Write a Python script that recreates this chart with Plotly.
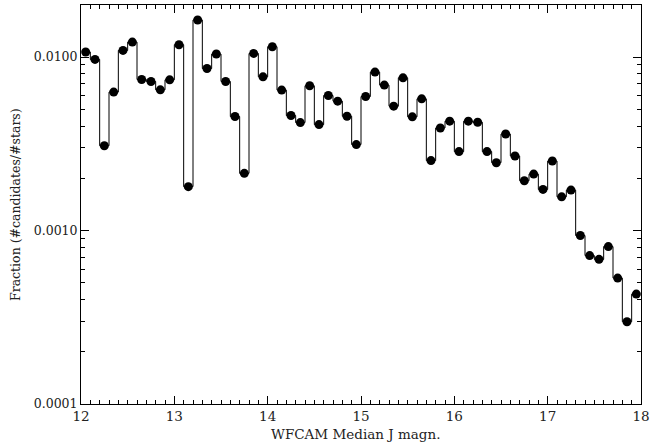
import plotly.graph_objects as go

mag = [round(12.05 + 0.1 * i, 2) for i in range(60)]
fraction = [
    0.01069, 0.00969, 0.00308, 0.00628, 0.01092, 0.0122, 0.00742, 0.00723, 0.00647, 0.00739,
    0.01178, 0.00179, 0.01636, 0.00859, 0.01041, 0.00723, 0.00454, 0.002136, 0.01049, 0.00769,
    0.01147, 0.00645, 0.0046, 0.00419, 0.00683, 0.00408, 0.0060, 0.00557, 0.00456, 0.00313,
    0.00592, 0.00819, 0.00689, 0.00521, 0.00759, 0.00452, 0.00574, 0.00253, 0.0039, 0.00427,
    0.00285, 0.00427, 0.00421, 0.00285, 0.00246, 0.0036, 0.00269, 0.001935, 0.002115, 0.001726,
    0.002516, 0.001564, 0.00171, 0.000936, 0.000717, 0.000682, 0.000808, 0.000532, 0.000298, 0.00043,
]
x_ticks = [12, 13, 14, 15, 16, 17, 18]
y_ticks = [0.0001, 0.001, 0.01]
y_ticktext = ["0.0001", "0.0010", "0.0100"]

font = "DejaVu Serif"
L, R, T, B = 81, 9, 5, 39
W, H = 650, 443
pw, ph = W - L - R, H - T - B

fig = go.Figure()
fig.add_trace(go.Scatter(
    x=mag, y=fraction, mode="lines+markers",
    line=dict(color="black", width=1, shape="hvh"),
    marker=dict(color="black", size=9),
    showlegend=False,
))

fig.update_layout(
    width=W, height=H,
    margin=dict(l=L, r=R, t=T, b=B, autoexpand=False),
    paper_bgcolor="white", plot_bgcolor="white",
    font=dict(family=font, size=13, color="#222"),
    xaxis=dict(
        range=[12, 18], tickvals=x_ticks, ticks="inside", ticklen=8, tickwidth=1,
        showline=True, linecolor="black", linewidth=1, mirror="ticks", tickcolor="black",
        showgrid=False, zeroline=False, tickfont=dict(size=13.5),
        minor=dict(ticks="inside", ticklen=4, dtick=0.1, tickcolor="black", showgrid=False),
    ),
    yaxis=dict(
        type="log", range=[-4, -1.70], tickvals=y_ticks, ticktext=y_ticktext,
        ticks="inside", ticklen=8, tickwidth=1, tickcolor="black",
        showline=True, linecolor="black", linewidth=1, mirror="ticks",
        showgrid=False, zeroline=False, tickfont=dict(size=12.5),
        minor=dict(ticks="inside", ticklen=4, dtick="D1", tickcolor="black", showgrid=False),
    ),
    annotations=[
        dict(
            text="WFCAM Median J magn.", xref="paper", yref="paper",
            x=(355 - L) / pw, y=-(434 - (H - B)) / ph, xanchor="center", yanchor="middle",
            showarrow=False, font=dict(size=13.5),
        ),
        dict(
            text="Fraction (#candidates/#stars)", xref="paper", yref="paper",
            x=-(L - 15) / pw, y=(H - B - 205) / ph, xanchor="center", yanchor="middle",
            textangle=-90, showarrow=False, font=dict(size=12.5),
        ),
    ],
)

fig.write_html("out.html", config={"displayModeBar": False},
               post_script="document.body.style.margin='0';")
